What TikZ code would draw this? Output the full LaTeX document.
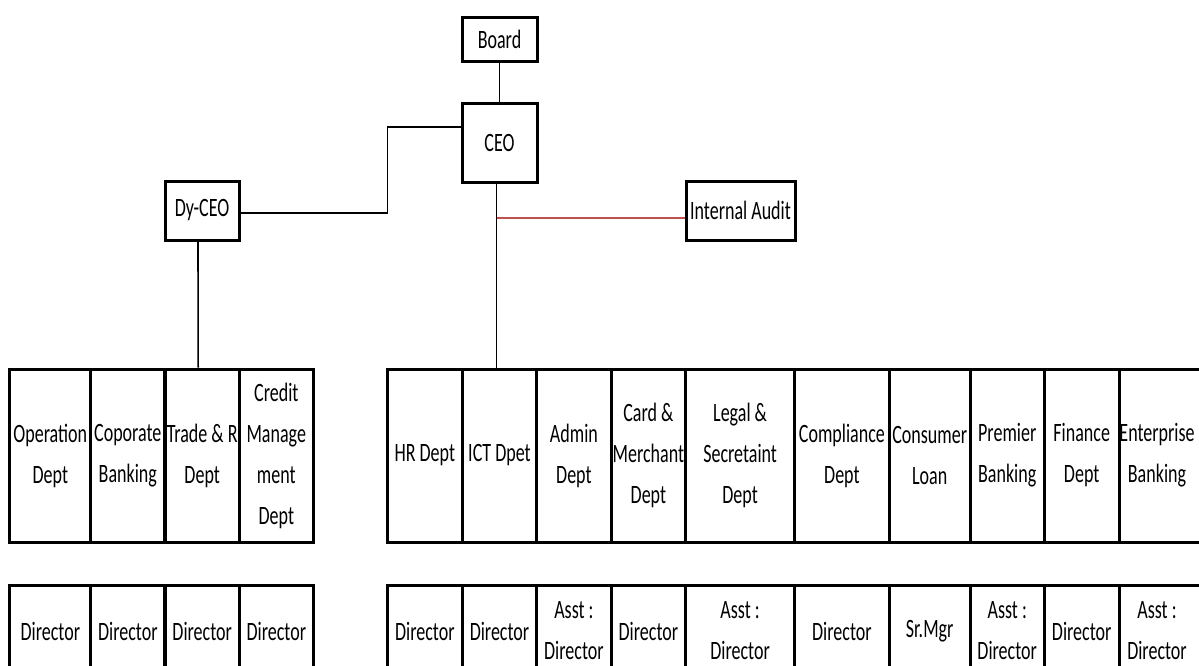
\documentclass[tikz,border=0pt]{standalone}
\usepackage{fontspec}
\setmainfont{Carlito}[FakeStretch=0.68]
\definecolor{auditred}{RGB}{192,80,77}
\begin{document}
\begin{tikzpicture}[x=1pt,y=-1pt,
  box/.style={draw, line width=3pt, inner sep=0pt, align=center,
    font=\fontsize{26.5}{41}\selectfont},
  dept/.style={box, minimum height=173pt},
  role/.style={box, minimum height=92pt},
  openbox/.style={draw=none, outer sep=0pt},
  edge/.style={line width=3pt, line cap=rect},
  conn/.style={line width=1.6pt},
  redconn/.style={line width=2.2pt, draw=auditred}]
\useasboundingbox (0,0) rectangle (1199,665);
\clip (0,0) rectangle (1199,665);

% top boxes
\node[box, minimum width=75, minimum height=44] (board) at (499.5,39) {Board};
\node[box, minimum width=75, minimum height=79] (ceo) at (499.5,142.5) {CEO};
\node[box, minimum width=74, minimum height=59] (dyceo) at (202,210.5) {Dy-CEO};
\node[box, minimum width=109, minimum height=59] (audit) at (740.5,210.5) {Internal Audit};

% left department row
\node[dept, minimum width=80.7] (op) at (50.3,455.5) {Operation\\Dept};
\node[dept, minimum width=74.3] (corp) at (127.8,455.5) {Coporate\\Banking};
\node[dept, minimum width=74.3] (trade) at (202.2,455.5) {Trade \& R\\Dept};
\node[dept, minimum width=74] (credit) at (276.3,455.5) {Credit\\Manage\\ment\\Dept};

% right department row
\node[dept, minimum width=75] (hr) at (424.8,455.5) {HR Dept};
\node[dept, minimum width=74.4] (ict) at (499.5,455.5) {ICT Dpet};
\node[dept, minimum width=74.3] (admin) at (573.9,455.5) {Admin\\Dept};
\node[dept, minimum width=74.7] (card) at (648.4,455.5) {Card \&\\Merchant\\Dept};
\node[dept, minimum width=108.8] (legal) at (740.1,455.5) {Legal \&\\Secretaint\\Dept};
\node[dept, minimum width=94.8] (compl) at (841.9,455.5) {Compliance\\Dept};
\node[dept, minimum width=80.7] (cons) at (929.7,455.5) {Consumer\\Loan};
\node[dept, minimum width=74.3] (prem) at (1007.2,455.5) {Premier\\Banking};
\node[dept, minimum width=74.7] (fin) at (1081.7,455.5) {Finance\\Dept};
\node[dept, openbox, minimum width=76] (ent) at (1157,455.5) {Enterprise\\Banking};
\draw[edge] (ent.north west) -- ++(120,0);
\draw[edge] (ent.south west) -- ++(120,0);

% left role row
\node[role, minimum width=80.7] (rop) at (50.3,631) {Director};
\node[role, minimum width=74.3] (rcorp) at (127.8,631) {Director};
\node[role, minimum width=74.3] (rtrade) at (202.2,631) {Director};
\node[role, minimum width=74] (rcredit) at (276.3,631) {Director};

% right role row
\node[role, minimum width=75] (rhr) at (424.8,631) {Director};
\node[role, minimum width=74.4] (rict) at (499.5,631) {Director};
\node[role, minimum width=74.3] (radmin) at (573.9,631) {Asst :\\Director};
\node[role, minimum width=74.7] (rcard) at (648.4,631) {Director};
\node[role, minimum width=108.8] (rlegal) at (740.1,631) {Asst :\\Director};
\node[role, minimum width=94.8] (rcompl) at (841.9,631) {Director};
\node[role, minimum width=80.7] (rcons) at (929.7,631) {Sr.Mgr};
\node[role, minimum width=74.3] (rprem) at (1007.2,631) {Asst :\\Director};
\node[role, minimum width=74.7] (rfin) at (1081.7,631) {Director};
\node[role, openbox, minimum width=76] (rent) at (1157,631) {Asst :\\Director};
\draw[edge] (rent.north west) -- ++(120,0);

% connectors
\draw[conn] (board.south) -- (ceo.north);
\coordinate (k1) at (387.5,127);
\coordinate (k2) at (dyceo.east |- 0,213);
\draw[conn] (ceo.west |- k1) -- (k1) -- (k1 |- k2) -- (k2);
\draw[conn] ([xshift=-3pt]ceo.south) -- ([xshift=-3pt]ict.north);
\coordinate (r) at ([xshift=-3pt]ceo.south |- 0,218);
\draw[redconn] (r) -- (r -| audit.west);
\draw[conn] ([xshift=-4pt]dyceo.south) -- ([xshift=-4pt]trade.north);
\end{tikzpicture}
\end{document}
